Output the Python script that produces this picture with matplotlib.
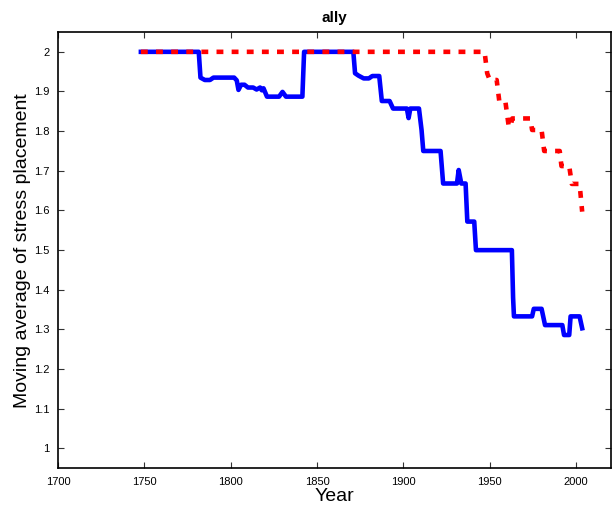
import matplotlib
matplotlib.use('Agg')
import matplotlib.pyplot as plt

plt.rcParams['font.family'] = ['Liberation Sans', 'DejaVu Sans']

# blue (solid) series
blue_years = [1748, 1781.5, 1782.5, 1785, 1788, 1790, 1802, 1803.5, 1804.5, 1806,
              1808, 1810, 1813, 1815, 1817, 1818, 1819, 1821, 1828, 1830,
              1832, 1841.5, 1842.5, 1871, 1872, 1874, 1877, 1880, 1882, 1886,
              1887.5, 1892, 1894, 1902, 1903, 1904, 1909, 1910.5, 1911.5, 1921.5,
              1923, 1931, 1932, 1933.5, 1936, 1937, 1941, 1942, 1962.8, 1963.5,
              1964, 1974.5, 1975.5, 1980, 1982, 1992, 1993, 1996, 1996.8, 2002,
              2003.5]
blue_vals = [2.0, 2.0, 1.935, 1.929, 1.929, 1.935, 1.935, 1.928, 1.904, 1.917,
             1.917, 1.910, 1.910, 1.905, 1.910, 1.903, 1.908, 1.887, 1.887, 1.899,
             1.887, 1.887, 2.0, 2.0, 1.946, 1.940, 1.933, 1.933, 1.939, 1.939,
             1.876, 1.876, 1.857, 1.857, 1.833, 1.857, 1.857, 1.803, 1.75, 1.75,
             1.668, 1.668, 1.702, 1.668, 1.668, 1.572, 1.572, 1.5, 1.5, 1.38,
             1.333, 1.333, 1.352, 1.352, 1.311, 1.311, 1.286, 1.286, 1.333, 1.333,
             1.303]

# red (dashed) series
red_years = [1748, 1947, 1948.5, 1950, 1954, 1955.5, 1959, 1961, 1962, 1963,
             1973.5, 1974.5, 1980, 1981.5, 1990.5, 1991.5, 1996, 1997.5, 2002, 2003.5]
red_vals = [2.0, 2.0, 1.946, 1.929, 1.929, 1.876, 1.876, 1.811, 1.811, 1.832,
            1.832, 1.803, 1.803, 1.75, 1.75, 1.712, 1.712, 1.667, 1.667, 1.597]

x_ticks = [1700, 1750, 1800, 1850, 1900, 1950, 2000]
y_ticks = [1, 1.1, 1.2, 1.3, 1.4, 1.5, 1.6, 1.7, 1.8, 1.9, 2]

fig = plt.figure(figsize=(6.13, 5.12), dpi=100)
ax = fig.add_axes([0.0946, 0.0854, 0.9016, 0.8521])

ax.plot(blue_years, blue_vals, color='#0000ff', lw=3.3, solid_joinstyle='round', zorder=2)
ax.plot(red_years, red_vals, color='#ff0000', lw=3.3, dashes=(1.5, 1.8),
        dash_capstyle='butt', zorder=3)

ax.set_xlim(1700, 2020)
ax.set_ylim(0.95, 2.05)
ax.set_xticks(x_ticks)
ax.set_yticks(y_ticks)
ax.set_yticklabels(['1', '1.1', '1.2', '1.3', '1.4', '1.5', '1.6', '1.7', '1.8', '1.9', '2'])
ax.tick_params(direction='in', length=4, width=0.8, labelsize=8,
               top=True, right=True, colors='#333333', labelcolor='black', pad=6)
for s in ax.spines.values():
    s.set_linewidth(1.2)

ax.set_xlabel('Year', fontsize=14, labelpad=1)
ax.set_ylabel('Moving average of stress placement', fontsize=14, labelpad=2)
ax.set_title('ally', fontsize=11, fontweight='bold', pad=7)

fig.savefig('out.png', dpi=100)
